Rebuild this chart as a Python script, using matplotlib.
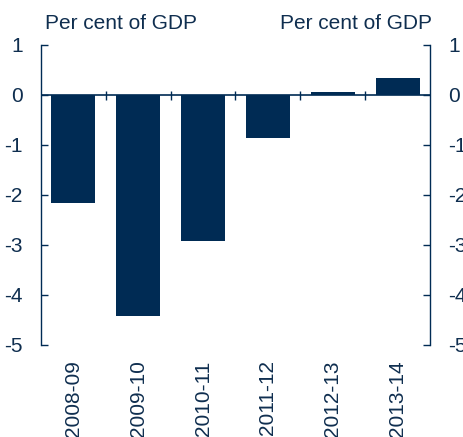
import matplotlib
matplotlib.use("Agg")
import matplotlib.pyplot as plt
import numpy as np

categories = ["2008-09", "2009-10", "2010-11", "2011-12", "2012-13", "2013-14"]
values = [-2.16, -4.42, -2.92, -0.86, 0.06, 0.35]
yticks = [-5, -4, -3, -2, -1, 0, 1]

navy = "#002B54"
text_c = "#0F2E4F"

plt.rcParams['font.family'] = ['Liberation Sans', 'DejaVu Sans']

fig = plt.figure(figsize=(4.63, 4.37), dpi=100)
ax = fig.add_axes([41/463, 1-345/437, (430-41)/463, 300/437])

x = np.arange(len(categories))
ax.bar(x, values, width=0.68, color=navy, zorder=2)
ax.set_xlim(-0.5, len(categories) - 0.5)
ax.set_ylim(-5, 1)

ax.axhline(0, color=navy, lw=1.2, zorder=3)
bounds = np.arange(0.5, len(categories) - 1)
ax.vlines(bounds, -0.09, 0.09, color=navy, lw=1.0, zorder=3)

for s in ["top", "bottom"]:
    ax.spines[s].set_visible(False)
for s in ["left", "right"]:
    ax.spines[s].set_color(navy)
    ax.spines[s].set_linewidth(1.0)

ax.set_yticks(yticks)
ax.set_yticklabels([str(v) for v in yticks])
ax.tick_params(axis='y', direction='in', length=5, width=1.0, color=navy,
               labelsize=15, labelcolor=text_c, pad=13,
               left=True, right=True, labelleft=True, labelright=True)

ax.set_xticks(x)
ax.set_xticklabels(categories, rotation=90, va='top', ha='center')
ax.tick_params(axis='x', length=0, labelsize=15, labelcolor=text_c, pad=11)

ax.text(0.01, 1.04, "Per cent of GDP", transform=ax.transAxes, ha='left',
        va='bottom', fontsize=15, color=text_c)
ax.text(1.005, 1.04, "Per cent of GDP", transform=ax.transAxes, ha='right',
        va='bottom', fontsize=15, color=text_c)

fig.savefig("out.png", dpi=100)
